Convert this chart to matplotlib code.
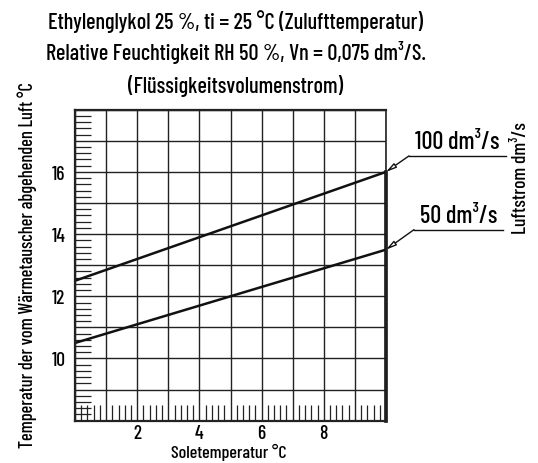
import matplotlib
matplotlib.use("Agg")
import matplotlib.pyplot as plt
from matplotlib.ticker import MultipleLocator
from matplotlib.lines import Line2D

# ---- data ----
sole_temp = [0, 10]                 # Soletemperatur (°C)
air_100 = [12.5, 16.0]              # Luftstrom 100 dm³/s
air_50 = [10.5, 13.5]               # Luftstrom 50 dm³/s
series_labels = ["100 dm³/s", "50 dm³/s"]
xtick_vals = [2, 4, 6, 8]
ytick_vals = [10, 12, 14, 16]

title_lines = [
    "Ethylenglykol 25 %, ti = 25 °C (Zulufttemperatur)",
    "Relative Feuchtigkeit RH 50 %, Vn = 0,075 dm³/S.",
    "(Flüssigkeitsvolumenstrom)",
]

plt.rcParams['font.family'] = ['Barlow Condensed', 'DejaVu Sans']
plt.rcParams['font.weight'] = 500

W, H = 538, 464
fig = plt.figure(figsize=(W / 100, H / 100), dpi=100)
ax = fig.add_axes([75 / W, 1 - 421.7 / H, 311 / W, 311 / H])

ax.set_xlim(0, 10)
ax.set_ylim(8, 18)

# grid every 1 unit, labels only on some
ax.set_xticks(range(0, 11))
ax.set_xticklabels([str(v) if v in xtick_vals else "" for v in range(0, 11)])
ax.set_yticks(range(8, 19))
ax.set_yticklabels([str(v) if v in ytick_vals else "" for v in range(8, 19)])
ax.grid(True, which="major", color="#222222", lw=1.0)
ax.tick_params(which="major", length=0, labelsize=14)
ax.tick_params(axis="x", which="major", pad=2.5)
ax.tick_params(axis="y", which="major", pad=7)

# small inward ticks every 0.2
ax.xaxis.set_minor_locator(MultipleLocator(0.2))
ax.yaxis.set_minor_locator(MultipleLocator(0.2))
ax.tick_params(which="minor", direction="in", length=11.5, width=0.9, color="#222222")

for sp in ax.spines.values():
    sp.set_linewidth(1.6)
    sp.set_color("#222222")
ax.spines["right"].set_linewidth(1.2)

# lines
ax.plot(sole_temp, air_100, color="#111111", lw=1.8)
ax.plot(sole_temp, air_50, color="#111111", lw=1.8)
# heavier right edge below the upper curve end
ax.plot([10, 10], [8, air_100[-1]], color="#111111", lw=2.6, clip_on=False)

# callouts: underline + leader arrow to curve end
px = 72 / 100  # points per pixel
for yend, lab, dx, dy, ulen in [(air_100[-1], series_labels[0], 23, 16, 97),
                                (air_50[-1], series_labels[1], 28, 20, 89)]:
    ax.annotate("", xy=(10, yend), xytext=(dx * px, dy * px), textcoords="offset points",
                arrowprops=dict(arrowstyle="-|>,head_length=0.6,head_width=0.15",
                                fc="white", ec="#111111", lw=1.0, shrinkA=0, shrinkB=0),
                annotation_clip=False)
    ax.annotate(lab, xy=(10, yend), xytext=((dx + ulen / 2) * px, (dy + 3) * px),
                textcoords="offset points", ha="center", va="bottom", fontsize=17.5,
                annotation_clip=False)
    x0, y0 = ax.transData.transform((10, yend))
    fig.add_artist(Line2D([x0 + dx, x0 + dx + ulen], [y0 + dy, y0 + dy],
                          color="#111111", lw=1.0, transform=None))

# titles and axis labels
ty = [22, 53, 86]
for t, y in zip(title_lines, ty):
    fig.text(236 / W, 1 - y / H, t, ha="center", va="center", fontsize=16)

fig.text(27 / W, 1 - 265 / H, "Temperatur der vom Wärmetauscher abgehenden Luft °C",
         rotation=90, ha="center", va="center", fontsize=13.2)
fig.text(521 / W, 1 - 178 / H, "Luftstrom dm³/s", rotation=90, ha="center", va="center",
         fontsize=14)
fig.text(229 / W, 1 - 452 / H, "Soletemperatur °C", ha="center", va="center", fontsize=13)

fig.savefig("out.png", dpi=100)
